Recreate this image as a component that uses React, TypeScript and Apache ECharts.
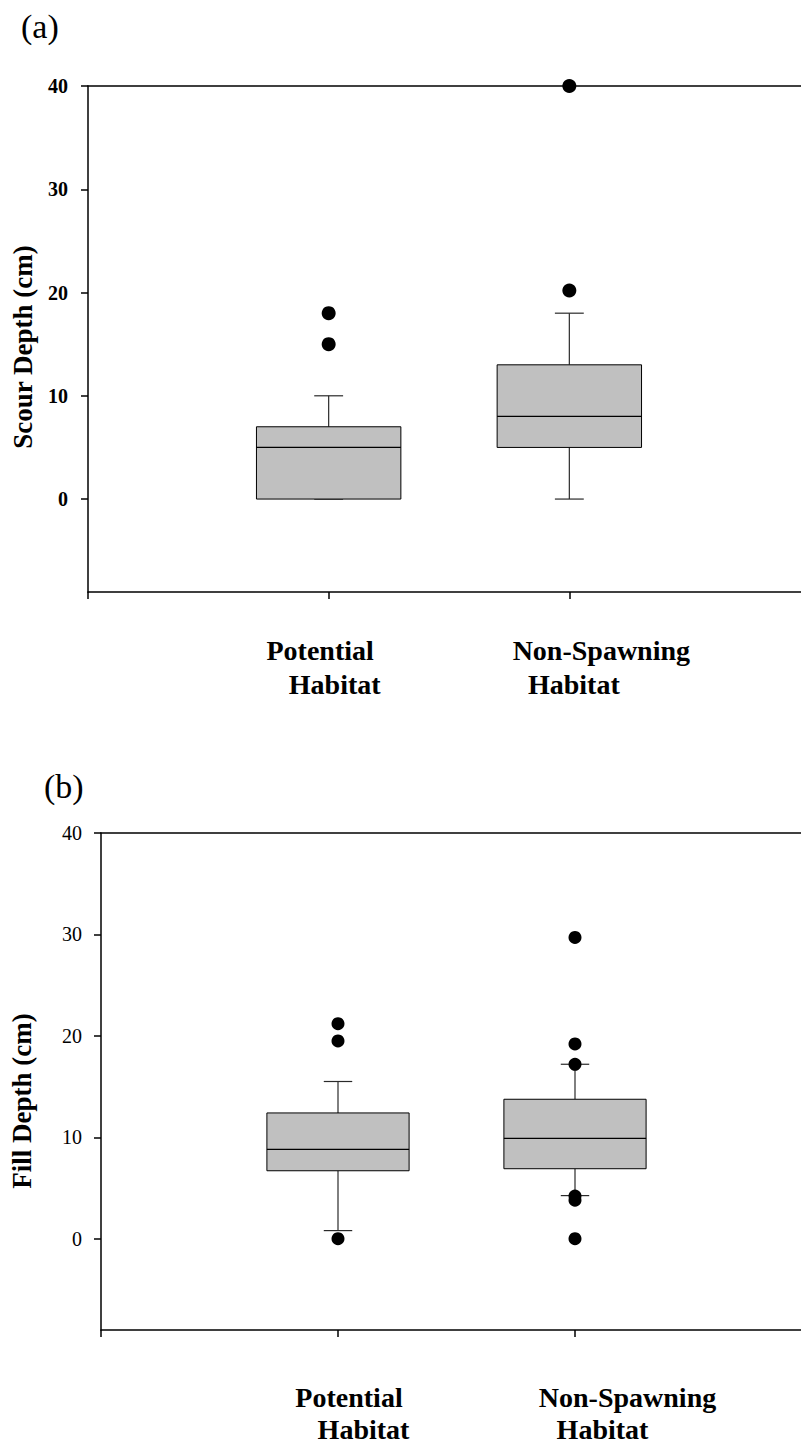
import React, { useEffect, useRef } from "react";
import * as echarts from "echarts";

// Category text, split into the two lines printed under each box
const potentialLines = ["Potential", "Habitat"];
const nonSpawningLines = ["Non-Spawning", "Habitat"];
const yTickValues = [0, 10, 20, 30, 40];

// Five-number summaries: [lower whisker, Q1, median, Q3, upper whisker]
const scourPotential = [0, 0, 5, 7, 10];
const scourNonSpawning = [0, 5, 8, 13, 18];
const scourPotentialOutliers = [15, 18];
const scourNonSpawningOutliers = [20.2, 40];

const fillPotential = [0.8, 6.7, 8.8, 12.4, 15.5];
const fillNonSpawning = [4.25, 6.9, 9.9, 13.75, 17.2];
const fillPotentialOutliers = [0, 19.5, 21.2];
const fillNonSpawningOutliers = [0, 3.8, 4.2, 17.2, 19.2, 29.7];

const SERIF = "'Liberation Serif', 'Times New Roman', Times, serif";
const BOX_WIDTH = 0.6; // in x-axis units
const CAP_WIDTH = 0.12;

const boxRows = (pot: number[], non: number[]) => [
  [1, ...pot],
  [2, ...non],
];
const outlierPoints = (pot: number[], non: number[]) => [
  ...pot.map((v) => [1, v]),
  ...non.map((v) => [2, v]),
];

const renderBox = (_params: any, api: any) => {
  const x = api.value(0);
  const [lo, q1, med, q3, hi] = [1, 2, 3, 4, 5].map((i) => api.value(i));
  const half = api.size([BOX_WIDTH, 0])[0] / 2;
  const capHalf = api.size([CAP_WIDTH, 0])[0] / 2;
  const cx = api.coord([x, med])[0];
  const y = (v: number) => api.coord([x, v])[1];
  const whisker = { stroke: "#2a2a2a", lineWidth: 1.2 };
  return {
    type: "group",
    children: [
      { type: "line", shape: { x1: cx, y1: y(q3), x2: cx, y2: y(hi) }, style: whisker },
      { type: "line", shape: { x1: cx, y1: y(lo), x2: cx, y2: y(q1) }, style: whisker },
      { type: "line", shape: { x1: cx - capHalf, y1: y(hi), x2: cx + capHalf, y2: y(hi) }, style: whisker },
      { type: "line", shape: { x1: cx - capHalf, y1: y(lo), x2: cx + capHalf, y2: y(lo) }, style: whisker },
      {
        type: "rect",
        shape: { x: cx - half, y: y(q3), width: half * 2, height: y(q1) - y(q3) },
        style: { fill: "#c0c0c0", stroke: "#000", lineWidth: 1 },
      },
      { type: "line", shape: { x1: cx - half, y1: y(med), x2: cx + half, y2: y(med) }, style: { stroke: "#000", lineWidth: 1.2 } },
    ],
  };
};

const lineStyle = { color: "#000", width: 1.5 };

// Bottom category axis; each label line gets its own height and left/right padding
const xAxisFor = (gridIndex: number, margin: number, heights: number[], pads: number[][]) => {
  const tok = (padding: number[], lineHeight: number) => ({
    fontFamily: SERIF,
    fontSize: 28,
    fontWeight: "bold",
    color: "#000",
    lineHeight,
    padding,
  });
  return {
    type: "value",
    gridIndex,
    position: "bottom",
    min: 0,
    max: 3,
    interval: 1,
    splitLine: { show: false },
    axisLine: { show: true, onZero: false, lineStyle },
    axisTick: { show: true, length: 7, inside: false, lineStyle },
    axisLabel: {
      show: true,
      margin,
      showMinLabel: true,
      showMaxLabel: true,
      fontFamily: SERIF,
      fontSize: 28,
      fontWeight: "bold",
      color: "#000",
      formatter: (v: number) =>
        v === 1
          ? `{p1|${potentialLines[0]}}\n{p2|${potentialLines[1]}}`
          : v === 2
          ? `{n1|${nonSpawningLines[0]}}\n{n2|${nonSpawningLines[1]}}`
          : "",
      rich: {
        p1: tok(pads[0], heights[0]),
        p2: tok(pads[1], heights[1]),
        n1: tok(pads[2], heights[0]),
        n2: tok(pads[3], heights[1]),
      },
    },
  };
};

// Plain line along the top of a panel
const topAxisFor = (gridIndex: number) => ({
  type: "value",
  gridIndex,
  position: "top",
  min: 0,
  max: 3,
  interval: 1,
  splitLine: { show: false },
  axisLine: { show: true, onZero: false, lineStyle },
  axisTick: { show: false },
  axisLabel: { show: false },
});

const yAxisFor = (
  gridIndex: number,
  name: string,
  nameGap: number,
  namePad: number,
  labelMargin: number,
  labelWeight: string
) => ({
  type: "value",
  gridIndex,
  min: -9,
  max: 40,
  name,
  nameLocation: "middle",
  nameRotate: 90,
  nameGap,
  nameTextStyle: {
    fontFamily: SERIF,
    fontSize: 27,
    fontWeight: "bold",
    color: "#000",
    padding: [0, namePad, 0, 0],
  },
  splitLine: { show: false },
  axisLine: { show: true, onZero: false, lineStyle },
  axisTick: { show: true, length: 7, inside: false, lineStyle, customValues: yTickValues },
  axisLabel: {
    show: true,
    margin: labelMargin,
    fontFamily: SERIF,
    fontSize: 20,
    fontWeight: labelWeight,
    color: "#000",
    customValues: yTickValues,
  },
});

export default function App() {
  const ref = useRef<HTMLDivElement>(null);

  useEffect(() => {
    if (!ref.current) return;
    const chart = echarts.init(ref.current, undefined, { renderer: "svg" });

    const option: any = {
      animation: false,
      backgroundColor: "#fff",
      grid: [
        { left: 88, top: 86, width: 722, height: 506, containLabel: false, outerBoundsMode: "none" },
        { left: 101, top: 833, width: 711, height: 497, containLabel: false, outerBoundsMode: "none" },
      ],
      xAxis: [
        xAxisFor(0, 41, [34, 34], [[0, 17, 0, 0], [0, 0, 0, 12], [0, 0, 0, 64], [0, 0, 0, 9]]),
        xAxisFor(1, 48, [38, 26], [[0, 0, 0, 22], [0, 0, 0, 51], [0, 0, 0, 105], [0, 0, 0, 55]]),
        topAxisFor(0),
        topAxisFor(1),
      ],
      yAxis: [
        yAxisFor(0, "Scour Depth (cm)", 52, 16, 20, "bold"),
        yAxisFor(1, "Fill Depth (cm)", 66, 39, 19, "normal"),
      ],
      graphic: [
        { type: "text", left: 21, top: 9, style: { text: "(a)", font: `34px ${SERIF}`, fill: "#000" } },
        { type: "text", left: 44, top: 769, style: { text: "(b)", font: `34px ${SERIF}`, fill: "#000" } },
      ],
      series: [
        {
          type: "custom",
          xAxisIndex: 0,
          yAxisIndex: 0,
          renderItem: renderBox,
          encode: { x: 0, y: [1, 2, 3, 4, 5] },
          data: boxRows(scourPotential, scourNonSpawning),
        },
        {
          type: "scatter",
          xAxisIndex: 0,
          yAxisIndex: 0,
          clip: false,
          symbol: "circle",
          symbolSize: 14,
          itemStyle: { color: "#000", opacity: 1 },
          data: outlierPoints(scourPotentialOutliers, scourNonSpawningOutliers),
        },
        {
          type: "custom",
          xAxisIndex: 1,
          yAxisIndex: 1,
          renderItem: renderBox,
          encode: { x: 0, y: [1, 2, 3, 4, 5] },
          data: boxRows(fillPotential, fillNonSpawning),
        },
        {
          type: "scatter",
          xAxisIndex: 1,
          yAxisIndex: 1,
          clip: false,
          symbol: "circle",
          symbolSize: 13,
          itemStyle: { color: "#000", opacity: 1 },
          data: outlierPoints(fillPotentialOutliers, fillNonSpawningOutliers),
        },
      ],
    };

    chart.setOption(option);
    return () => chart.dispose();
  }, []);

  return (
    <div
      ref={ref}
      style={{ position: "absolute", left: 0, top: 0, width: 801, height: 1445, background: "#fff" }}
    />
  );
}
